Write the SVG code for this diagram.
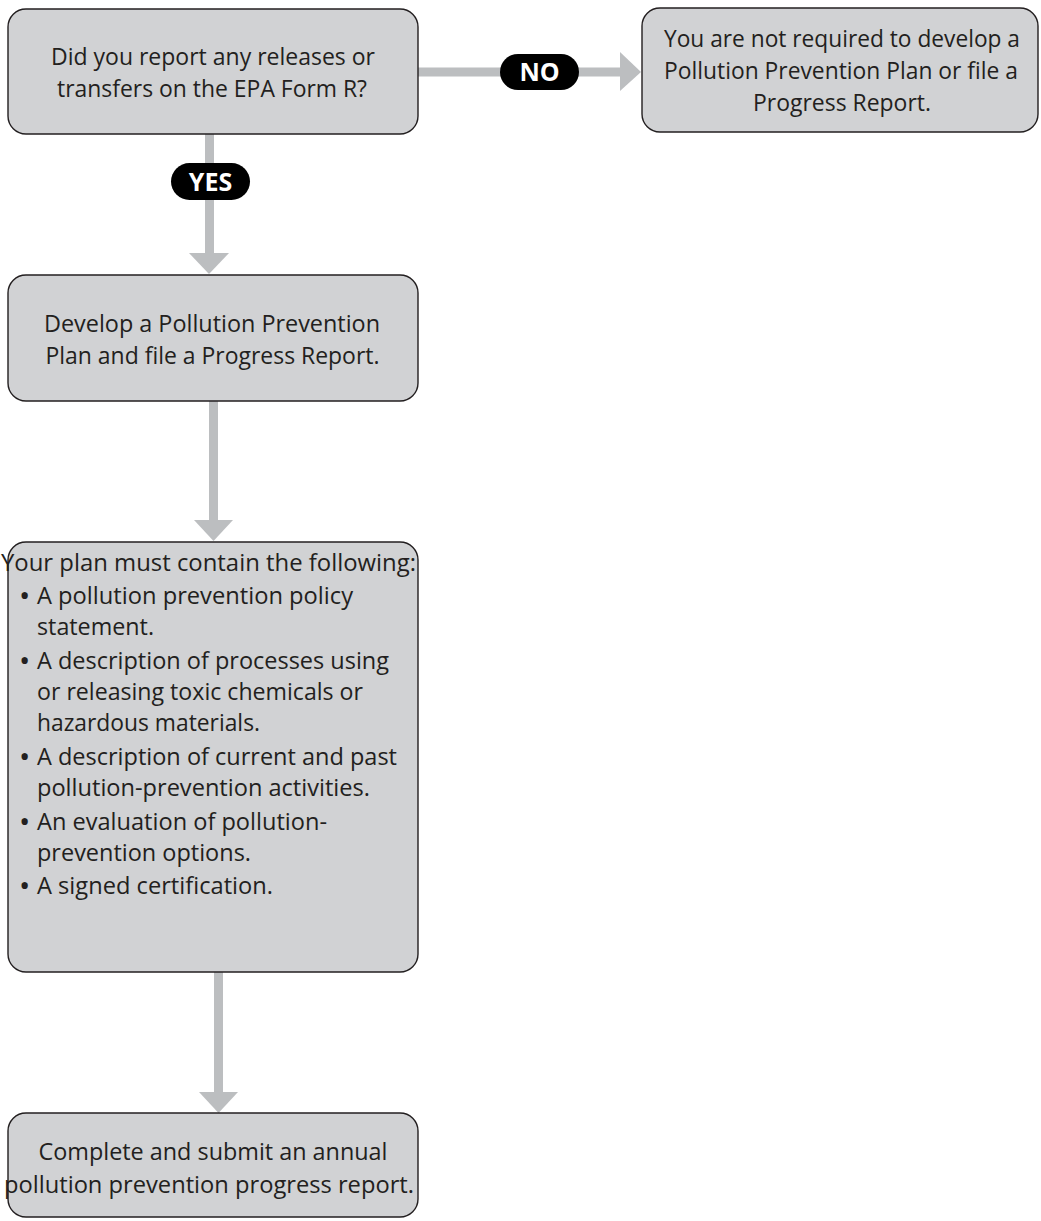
<svg xmlns="http://www.w3.org/2000/svg" width="1041" height="1221" viewBox="0 0 1041 1221">
<style>
.box{fill:#d1d2d4;stroke:#231f20;stroke-width:1.4}
.t{font-family:"Open Sans","Liberation Sans",sans-serif;font-size:24.5px;fill:#231f20}
.s{font-size:23px}
.c{text-anchor:middle}
.b{font-family:"Open Sans","Liberation Sans",sans-serif;font-size:30px;fill:#231f20}
.bar{fill:#bcbec0}
.pill{fill:#000}
.pt{font-family:"Open Sans","Liberation Sans",sans-serif;font-size:25px;font-weight:bold;fill:#fff;text-anchor:middle}
</style>
<rect width="1041" height="1221" fill="#fff"/>
<g id="connectors">
  <g id="c-no">
    <rect class="bar" x="418" y="67.5" width="204" height="9"/>
    <polygon class="bar" points="620,52 641,72 620,91"/>
    <rect class="pill" x="500" y="54" width="79" height="36" rx="18"/>
    <text class="pt" x="539.5" y="81">NO</text>
  </g>
  <g id="c-yes">
    <rect class="bar" x="205" y="134" width="9" height="121"/>
    <polygon class="bar" points="189,253 229,253 209,274"/>
    <rect class="pill" x="171" y="163" width="79" height="37" rx="18.5"/>
    <text class="pt" x="210.5" y="191">YES</text>
  </g>
  <g id="c-3-4">
    <rect class="bar" x="209" y="401" width="9" height="121"/>
    <polygon class="bar" points="194,520 233,520 213.5,541"/>
  </g>
  <g id="c-4-5">
    <rect class="bar" x="214" y="972" width="9" height="122"/>
    <polygon class="bar" points="199,1092 238,1092 218.5,1113"/>
  </g>
</g>
<g id="n1">
  <rect class="box" x="8" y="9" width="410" height="125" rx="18"/>
  <text class="t c" x="213" y="65" textLength="324" lengthAdjust="spacingAndGlyphs">Did you report any releases or</text>
  <text class="t c" x="212" y="97" textLength="310" lengthAdjust="spacingAndGlyphs">transfers on the EPA Form R?</text>
</g>
<g id="n2">
  <rect class="box" x="642" y="8" width="396" height="124" rx="18"/>
  <text class="t s c" x="842" y="47" textLength="356" lengthAdjust="spacingAndGlyphs">You are not required to develop a</text>
  <text class="t s c" x="841" y="79" textLength="354" lengthAdjust="spacingAndGlyphs">Pollution Prevention Plan or file a</text>
  <text class="t c" x="842" y="111" textLength="178" lengthAdjust="spacingAndGlyphs">Progress Report.</text>
</g>
<g id="n3">
  <rect class="box" x="8" y="275" width="410" height="126" rx="18"/>
  <text class="t c" x="212" y="332" textLength="336" lengthAdjust="spacingAndGlyphs">Develop a Pollution Prevention</text>
  <text class="t c" x="212.5" y="364" textLength="334" lengthAdjust="spacingAndGlyphs">Plan and file a Progress Report.</text>
</g>
<g id="n4">
  <rect class="box" x="8" y="542" width="410" height="430" rx="18"/>
  <text class="t" x="1" y="571" textLength="415" lengthAdjust="spacingAndGlyphs">Your plan must contain the following:</text>
  <text class="b" x="19" y="606">•</text>
  <text class="t" x="37" y="604" textLength="316" lengthAdjust="spacingAndGlyphs">A pollution prevention policy</text>
  <text class="t" x="37" y="635" textLength="117" lengthAdjust="spacingAndGlyphs">statement.</text>
  <text class="b" x="19" y="671">•</text>
  <text class="t" x="37" y="669" textLength="352" lengthAdjust="spacingAndGlyphs">A description of processes using</text>
  <text class="t" x="37" y="700" textLength="326" lengthAdjust="spacingAndGlyphs">or releasing toxic chemicals or</text>
  <text class="t" x="37" y="731" textLength="223" lengthAdjust="spacingAndGlyphs">hazardous materials.</text>
  <text class="b" x="19" y="767">•</text>
  <text class="t" x="37" y="765" textLength="360" lengthAdjust="spacingAndGlyphs">A description of current and past</text>
  <text class="t" x="37" y="796" textLength="333" lengthAdjust="spacingAndGlyphs">pollution-prevention activities.</text>
  <text class="b" x="19" y="832">•</text>
  <text class="t" x="37" y="830" textLength="290" lengthAdjust="spacingAndGlyphs">An evaluation of pollution-</text>
  <text class="t" x="37" y="861" textLength="214" lengthAdjust="spacingAndGlyphs">prevention options.</text>
  <text class="b" x="19" y="896">•</text>
  <text class="t" x="37" y="894" textLength="236" lengthAdjust="spacingAndGlyphs">A signed certification.</text>
</g>
<g id="n5">
  <rect class="box" x="8" y="1113" width="410" height="104" rx="18"/>
  <text class="t c" x="213" y="1160" textLength="349" lengthAdjust="spacingAndGlyphs">Complete and submit an annual</text>
  <text class="t c" x="209" y="1193" textLength="410" lengthAdjust="spacingAndGlyphs">pollution prevention progress report.</text>
</g>
</svg>
